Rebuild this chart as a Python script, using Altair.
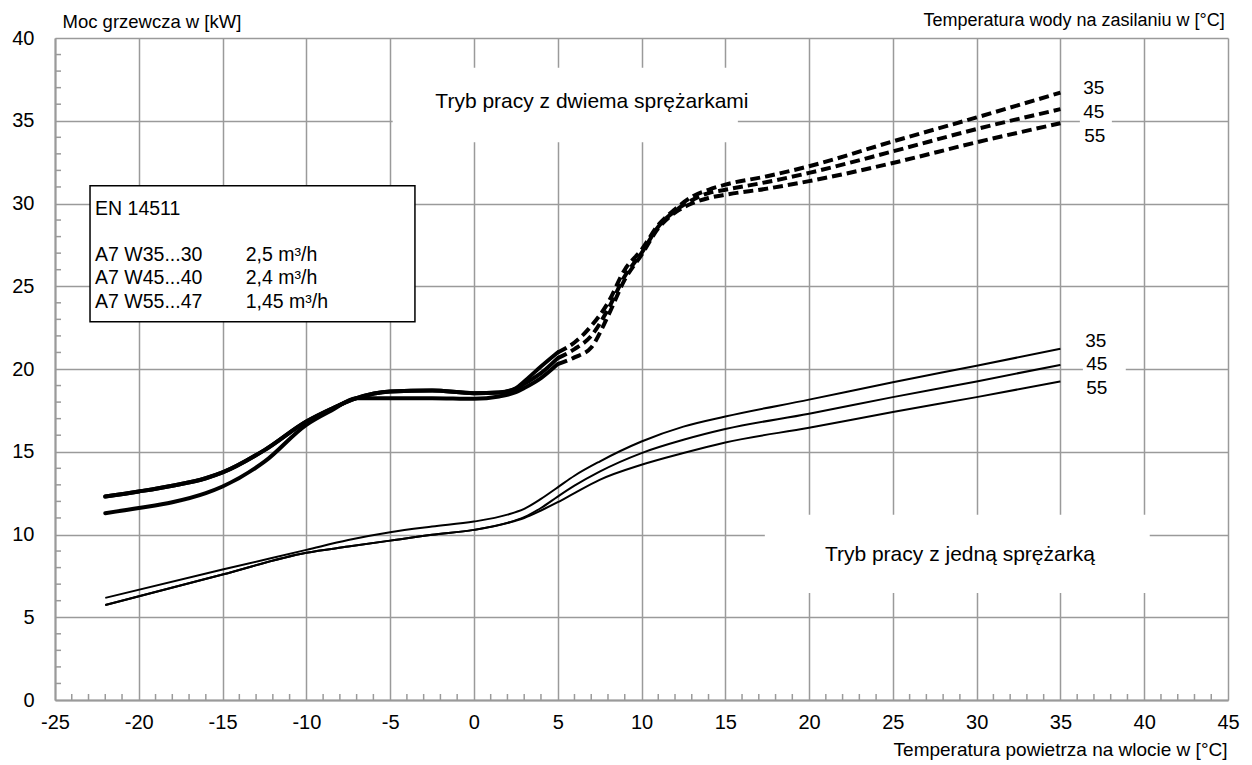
import altair as alt
import pandas as pd

FONT = "Liberation Sans"
GRID = "#9a9a9a"

temps = ["35", "45", "55"]

# ---- single-compressor mode (thin solid lines) ----
single_x = [-22, -15, -10, -7.5, -5, -2.5, 0, 2, 3, 4, 5, 6, 7.5, 10, 12.5, 15, 20, 25, 30, 35]
single_35 = [6.17, 7.88, 9.07, 9.67, 10.14, 10.48, 10.78, 11.2, 11.55, 12.15, 12.85, 13.55, 14.41, 15.62, 16.52, 17.13, 18.15, 19.2, 20.2, 21.22]
single_45 = [5.74, 7.58, 8.9, 9.27, 9.63, 9.98, 10.28, 10.7, 11.05, 11.6, 12.29, 12.95, 13.8, 14.92, 15.72, 16.37, 17.3, 18.3, 19.25, 20.25]
single_55 = [5.74, 7.58, 8.9, 9.27, 9.63, 9.98, 10.28, 10.7, 11.0, 11.45, 11.95, 12.5, 13.3, 14.21, 14.92, 15.56, 16.45, 17.4, 18.3, 19.25]

# ---- two-compressor mode, solid part (thick) ----
dual_x = [-22, -20, -18, -16, -15, -12.5, -10, -8.5, -7, -5, -2.5, 0, 1.5, 2.5, 3, 4, 5]
dual_35 = [12.29, 12.6, 12.95, 13.4, 13.75, 15.1, 16.83, 17.6, 18.24, 18.64, 18.7, 18.54, 18.58, 18.84, 19.25, 20.15, 21.0]
dual_45 = [12.29, 12.6, 12.95, 13.4, 13.75, 15.1, 16.83, 17.6, 18.24, 18.64, 18.7, 18.54, 18.58, 18.8, 19.1, 19.75, 20.66]
dual_55 = [11.29, 11.6, 11.95, 12.5, 12.9, 14.4, 16.63, 17.5, 18.24, 18.24, 18.24, 18.2, 18.34, 18.6, 18.85, 19.45, 20.3]

# ---- two-compressor mode, dashed part ----
dash_x = [5, 6, 7, 8, 9, 10, 11, 12, 13, 14, 15, 17.5, 20, 25, 30, 35]
dash_35 = [21.0, 21.6, 22.6, 24.0, 26.0, 27.2, 28.7, 29.65, 30.4, 30.83, 31.14, 31.65, 32.25, 33.75, 35.2, 36.7]
dash_45 = [20.66, 21.2, 22.0, 23.6, 25.6, 27.0, 28.6, 29.55, 30.2, 30.63, 30.83, 31.3, 31.85, 33.15, 34.5, 35.7]
dash_55 = [20.3, 20.7, 21.3, 23.2, 25.4, 26.9, 28.5, 29.45, 30.0, 30.33, 30.53, 30.9, 31.35, 32.45, 33.7, 34.85]

# ---- annotations ----
line_label_x = [36.99, 36.99, 37.05, 37.11, 37.17, 37.17]
line_label_y = [37.0, 35.55, 34.1, 21.7, 20.31, 18.86]
line_label_t = ["35", "45", "55", "35", "45", "55"]

mode_text = ["Tryb pracy z dwiema sprężarkami", "Tryb pracy z jedną sprężarką"]
mode_x = [7.04, 29.0]
mode_y = [36.15, 8.77]

legend_left = ["EN 14511", "A7 W35...30", "A7 W45...40", "A7 W55...47"]
legend_right = ["", "2,5 m³/h", "2,4 m³/h", "1,45 m³/h"]
legend_rows_y = [29.32, 26.5, 25.15, 23.68]

# white background boxes (data coordinates): x, x2, y, y2
boxes = pd.DataFrame({
    "x": [-4.85, 17.36, 36.16, 36.34],
    "x2": [15.75, 40.33, 38.07, 38.9],
    "y": [33.7, 6.47, 34.55, 19.6],
    "y2": [38.2, 11.19, 36.2, 21.0],
})
legend_box = pd.DataFrame({"x": [-22.91], "x2": [-3.52], "y": [22.85], "y2": [31.08]})

minor_y = [v for v in range(1, 40) if v % 5 != 0]
minor_x = [v for v in range(-24, 45) if v % 5 != 0]


def long_df(xs, series):
    rows = []
    for t, ys in zip(temps, series):
        for xv, yv in zip(xs, ys):
            rows.append({"x": xv, "y": yv, "t": t})
    return pd.DataFrame(rows)


single_df = long_df(single_x, [single_35, single_45, single_55])
dual_df = long_df(dual_x, [dual_35, dual_45, dual_55])
dash_df = long_df(dash_x, [dash_35, dash_45, dash_55])

xscale = alt.Scale(domain=[-25, 45], nice=False, zero=False)
yscale = alt.Scale(domain=[0, 40], nice=False, zero=False)

xaxis = alt.Axis(
    values=list(range(-25, 50, 5)), grid=True, gridColor=GRID, gridWidth=1.5,
    domain=True, domainColor=GRID, domainWidth=2, ticks=False,
    labelFont=FONT, labelFontSize=20, labelColor="black", labelPadding=12,
    labelFlush=False, labelOverlap=False, labelExpr="'' + datum.value",
    title="Temperatura powietrza na wlocie w [°C]", titleFont=FONT, titleFontSize=19,
    titleFontWeight="normal", titleColor="black", titleAlign="right",
    titleBaseline="alphabetic", titleX=1172, titleY=55,
)
yaxis = alt.Axis(
    values=list(range(0, 45, 5)), grid=True, gridColor=GRID, gridWidth=1.5,
    domain=True, domainColor=GRID, domainWidth=2, ticks=False,
    labelFont=FONT, labelFontSize=20, labelColor="black", labelPadding=21,
    labelOverlap=False, labelExpr="'' + datum.value",
    title="Moc grzewcza w [kW]", titleFont=FONT, titleFontSize=18.5,
    titleFontWeight="normal", titleColor="black", titleAngle=0, titleAlign="left",
    titleBaseline="alphabetic", titleX=7, titleY=-11,
)

X = alt.X("x:Q", scale=xscale, axis=xaxis)
Y = alt.Y("y:Q", scale=yscale, axis=yaxis)

white_boxes = alt.Chart(boxes).mark_rect(fill="white", stroke=None).encode(
    x=X, x2="x2:Q", y=Y, y2="y2:Q"
)

ticks_y = alt.Chart(pd.DataFrame({"y": minor_y})).mark_rule(color=GRID, strokeWidth=1.5).encode(
    y=Y, x=alt.value(0), x2=alt.value(6)
)
ticks_x = alt.Chart(pd.DataFrame({"x": minor_x})).mark_rule(color=GRID, strokeWidth=1.5).encode(
    x=X, y=alt.value(656), y2=alt.value(662)
)

single_lines = alt.Chart(single_df).mark_line(
    color="black", strokeWidth=2, interpolate="monotone"
).encode(x=X, y=Y, detail="t:N")

dual_lines = alt.Chart(dual_df).mark_line(
    color="black", strokeWidth=4, interpolate="monotone", strokeCap="round"
).encode(x=X, y=Y, detail="t:N")

dash_lines = alt.Chart(dash_df).mark_line(
    color="black", strokeWidth=4, interpolate="monotone", strokeDash=[10, 5]
).encode(x=X, y=Y, detail="t:N")

lbl_df = pd.DataFrame({"x": line_label_x, "y": line_label_y, "t": line_label_t})
line_labels = alt.Chart(lbl_df).mark_text(
    font=FONT, fontSize=19, color="black", align="center", baseline="middle"
).encode(x=X, y=Y, text="t:N")

mode_df = pd.DataFrame({"x": mode_x, "y": mode_y, "t": mode_text})
mode_labels = alt.Chart(mode_df).mark_text(
    font=FONT, fontSize=21, color="black", align="center", baseline="middle"
).encode(x=X, y=Y, text="t:N")

legend_rect = alt.Chart(legend_box).mark_rect(
    fill="white", stroke="black", strokeWidth=1.5
).encode(x=X, x2="x2:Q", y=Y, y2="y2:Q")

leg_l = pd.DataFrame({"x": [-22.61] * 4, "y": legend_rows_y, "t": legend_left})
leg_r = pd.DataFrame({"x": [-13.62] * 4, "y": legend_rows_y, "t": legend_right})
legend_text_l = alt.Chart(leg_l).mark_text(
    font=FONT, fontSize=19.5, color="black", align="left", baseline="alphabetic"
).encode(x=X, y=Y, text="t:N")
legend_text_r = alt.Chart(leg_r).mark_text(
    font=FONT, fontSize=19.5, color="black", align="left", baseline="alphabetic"
).encode(x=X, y=Y, text="t:N")

top_title = alt.Chart(pd.DataFrame({"x": [44.81], "y": [40.75], "t": ["Temperatura wody na zasilaniu w [°C]"]})).mark_text(
    font=FONT, fontSize=18, color="black", align="right", baseline="alphabetic"
).encode(x=X, y=Y, text="t:N")

chart = alt.layer(
    white_boxes, ticks_y, ticks_x, single_lines, dual_lines, dash_lines,
    line_labels, mode_labels, legend_rect, legend_text_l, legend_text_r, top_title,
).properties(
    width=1173, height=662,
    autosize=alt.AutoSizeParams(type="none"),
    padding={"left": 47, "top": 30, "right": 16, "bottom": 64},
    background="white",
).configure_view(stroke=None)

chart.save("out.html", embed_options={"renderer": "svg", "actions": False})
